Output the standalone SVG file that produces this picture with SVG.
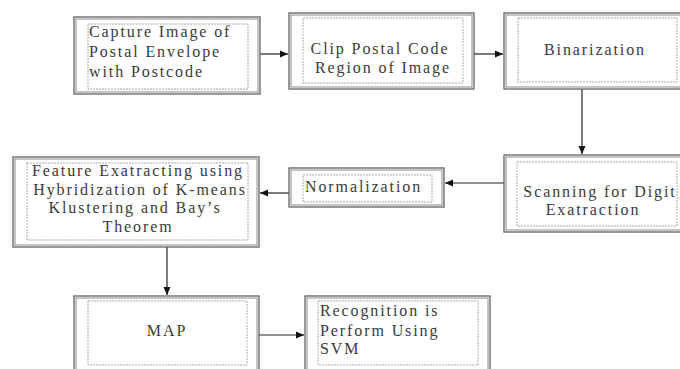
<svg xmlns="http://www.w3.org/2000/svg" width="680" height="369" viewBox="0 0 680 369">
<style>
.o{fill:#fff;stroke:#555;stroke-width:1.2}
.o2{fill:none;stroke:#8a8a8a;stroke-width:1}
.i{fill:none;stroke:#a8a8a8;stroke-width:1;stroke-dasharray:2 1}
.t{font-family:"Liberation Serif","Times New Roman",serif;font-size:16px;letter-spacing:1.9px;fill:#3a3a3a}
.c{text-anchor:middle}
.e{stroke:#222;stroke-width:1.2;fill:none}
</style>
<defs>
<marker id="ah" markerWidth="9" markerHeight="8" refX="8" refY="4" orient="auto" markerUnits="userSpaceOnUse">
<path d="M0,0.5 L8,4 L0,7.5 Z" fill="#111"/>
</marker>
</defs>
<rect width="680" height="369" fill="#fff"/>
<g id="connectors">
<line class="e" x1="260" y1="54" x2="288" y2="54" marker-end="url(#ah)"/>
<line class="e" x1="474" y1="54" x2="503" y2="54" marker-end="url(#ah)"/>
<line class="e" x1="582" y1="89" x2="582" y2="154" marker-end="url(#ah)"/>
<line class="e" x1="504" y1="183" x2="445" y2="183" marker-end="url(#ah)"/>
<line class="e" x1="289" y1="193" x2="260" y2="193" marker-end="url(#ah)"/>
<line class="e" x1="167" y1="247" x2="167" y2="295" marker-end="url(#ah)"/>
<line class="e" x1="259" y1="335" x2="304" y2="335" marker-end="url(#ah)"/>
</g>
<g id="capture">
<rect class="o" x="74" y="17" width="186" height="77"/>
<rect class="o2" x="76" y="19" width="182" height="73"/>
<rect class="i" x="88" y="24" width="160" height="65"/>
<text class="t" x="89" y="37">Capture Image of</text>
<text class="t" x="89" y="57">Postal Envelope</text>
<text class="t" x="89" y="77">with Postcode</text>
</g>
<g id="clip">
<rect class="o" x="289" y="13" width="185" height="76"/>
<rect class="o2" x="291" y="15" width="181" height="72"/>
<rect class="i" x="303" y="18" width="160" height="65"/>
<text class="t c" x="380" y="54">Clip Postal Code</text>
<text class="t c" x="383" y="73">Region of Image</text>
</g>
<g id="binarization">
<rect class="o" x="504" y="13" width="180" height="76"/>
<rect class="o2" x="506" y="15" width="176" height="72"/>
<rect class="i" x="518" y="18" width="159" height="64"/>
<text class="t c" x="595" y="55">Binarization</text>
</g>
<g id="scanning">
<rect class="o" x="504" y="155" width="180" height="77"/>
<rect class="o2" x="506" y="157" width="176" height="73"/>
<rect class="i" x="517" y="162" width="160" height="64"/>
<text class="t c" x="600" y="197">Scanning for Digit</text>
<text class="t c" x="593" y="215">Exatraction</text>
</g>
<g id="normalization">
<rect class="o" x="289" y="168" width="155" height="39"/>
<rect class="o2" x="291" y="170" width="151" height="35"/>
<rect class="i" x="303" y="175" width="129" height="27"/>
<text class="t" x="305" y="192">Normalization</text>
</g>
<g id="feature">
<rect class="o" x="13" y="157" width="246" height="90"/>
<rect class="o2" x="15" y="159" width="242" height="86"/>
<rect class="i" x="27" y="163" width="221" height="77"/>
<text class="t c" x="138" y="176">Feature Exatracting using</text>
<text class="t c" x="140" y="195">Hybridization of K-means</text>
<text class="t c" x="135" y="213">Klustering and Bay’s</text>
<text class="t c" x="138" y="232">Theorem</text>
</g>
<g id="map">
<rect class="o" x="74" y="296" width="185" height="80"/>
<rect class="o2" x="76" y="298" width="181" height="76"/>
<rect class="i" x="88" y="301" width="159" height="64"/>
<text class="t c" x="167" y="336">MAP</text>
</g>
<g id="recognition">
<rect class="o" x="305" y="296" width="185" height="80"/>
<rect class="o2" x="307" y="298" width="181" height="76"/>
<rect class="i" x="318" y="301" width="160" height="64"/>
<text class="t" x="320" y="316">Recognition is</text>
<text class="t" x="320" y="336">Perform Using</text>
<text class="t" x="320" y="354">SVM</text>
</g>
</svg>
